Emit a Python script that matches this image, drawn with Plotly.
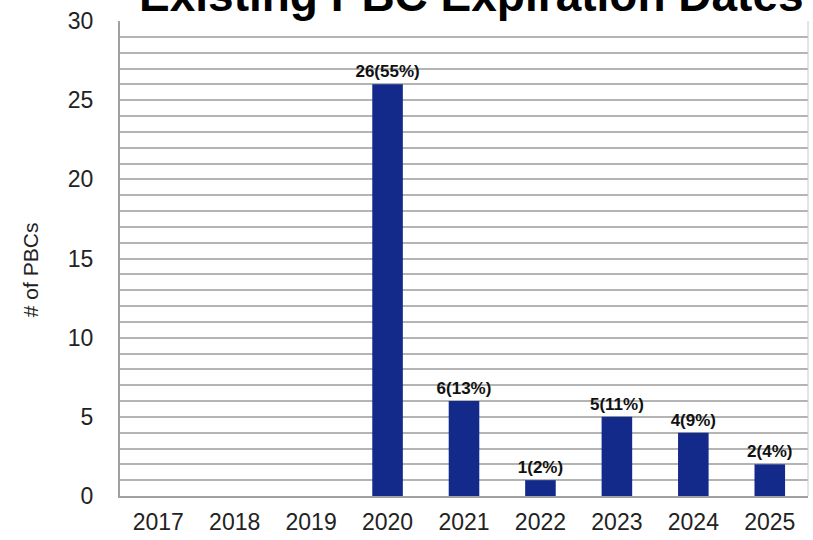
import plotly.graph_objects as go

years = ["2017", "2018", "2019", "2020", "2021", "2022", "2023", "2024", "2025"]
counts = [0, 0, 0, 26, 6, 1, 5, 4, 2]
labels = ["", "", "", "26(55%)", "6(13%)", "1(2%)", "5(11%)", "4(9%)", "2(4%)"]

fig = go.Figure()
fig.add_trace(go.Bar(
    x=years, y=counts, width=0.4,
    marker=dict(color="#142a8a", line=dict(width=0)),
    text=labels, textposition="outside", cliponaxis=False, constraintext="none",
    textfont=dict(family="Liberation Sans, Arial", size=17, color="#111111"),
))
fig.update_traces(texttemplate="<b>%{text}</b>")

fig.add_annotation(
    text="<b>Existing PBC Expiration Dates</b>",
    xref="paper", yref="paper", x=0.5, y=1, xanchor="center", yanchor="bottom",
    xshift=7, yshift=-2, showarrow=False,
    font=dict(family="Liberation Sans, Arial", size=46, color="#000000"),
)
fig.add_annotation(
    text="# of PBCs", textangle=-90,
    xref="paper", yref="paper", x=-0.129, y=0.476, xanchor="center", yanchor="middle",
    showarrow=False, font=dict(family="Liberation Sans, Arial", size=21, color="#222222"),
)

fig.update_layout(
    width=813, height=540,
    margin=dict(l=120, r=5, t=21, b=44),
    paper_bgcolor="white", plot_bgcolor="white",
    showlegend=False, bargap=0.6,
    font=dict(family="Liberation Sans, Arial", size=23, color="#222222"),
)
fig.update_yaxes(
    range=[0, 30], tickvals=[0, 5, 10, 15, 20, 25, 30], automargin=False,
    showgrid=True, gridcolor="#b4b4b4", gridwidth=2,
    minor=dict(dtick=1, showgrid=True, gridcolor="#b4b4b4", gridwidth=2),
    showline=True, linecolor="#a0a0a0", linewidth=2, mirror=False,
    ticks="", ticklabelstandoff=20, zeroline=False,
    tickfont=dict(size=23),
)
fig.update_xaxes(
    showline=True, linecolor="#a0a0a0", linewidth=2, automargin=False,
    ticks="", tickfont=dict(size=23), ticklabelstandoff=4,
)
fig.add_shape(type="line", xref="paper", yref="paper", x0=1, x1=1, y0=0, y1=1,
              line=dict(color="#c8c8c8", width=1))

fig.write_html("out.html", config={"displayModeBar": False},
               post_script="document.body.style.margin='0';")
